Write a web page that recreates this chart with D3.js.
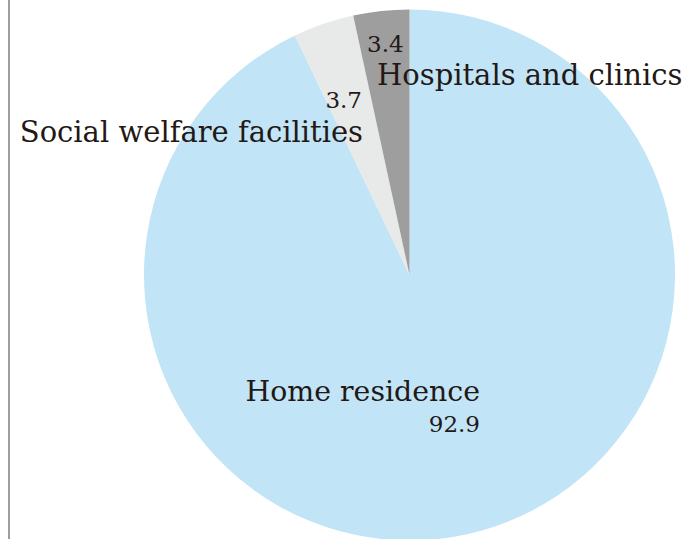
<!DOCTYPE html>
<html>
<head>
<meta charset="utf-8">
<script src="https://cdn.jsdelivr.net/npm/d3@7"></script>
<style>
  body { margin: 0; background: #fff; }
  svg { display: block; }
  text { font-family: "DejaVu Serif", serif; fill: #231815; }
</style>
</head>
<body>
<svg id="chart" width="686" height="539"></svg>
<script>
const categories = ['Home residence', 'Social welfare facilities', 'Hospitals and clinics'];
const values = [92.9, 3.7, 3.4];
const colors = ['#c1e4f7', '#e8e9e9', '#9e9e9e'];

const width = 686;
const height = 539;
const cx = 409.5;
const cy = 275;
const radius = 265.5;

const svg = d3.select('#chart');

// left frame line
svg.append('line')
  .attr('x1', 9).attr('x2', 9)
  .attr('y1', 0).attr('y2', height)
  .attr('stroke', '#7d7d7d')
  .attr('stroke-width', 1.5);

const data = categories.map((c, i) => ({ name: c, value: values[i], color: colors[i] }));

const pie = d3.pie().sort(null).value(d => d.value);
const arc = d3.arc().innerRadius(0).outerRadius(radius);

const g = svg.append('g').attr('transform', `translate(${cx},${cy})`);

g.selectAll('path')
  .data(pie(data))
  .join('path')
  .attr('d', arc)
  .attr('fill', d => d.data.color);

// label placement (name position, value position, anchors, size)
const labels = [
  { name: [480, 401], value: [480, 432], anchor: 'end', valueAnchor: 'end', size: 28.4 },
  { name: [363, 142], value: [362, 108], anchor: 'end', valueAnchor: 'end', size: 29 },
  { name: [377, 85], value: [367, 52], anchor: 'start', valueAnchor: 'start', size: 29 },
];

const lg = svg.append('g');
data.forEach((d, i) => {
  const l = labels[i];
  lg.append('text')
    .attr('x', l.name[0]).attr('y', l.name[1])
    .attr('text-anchor', l.anchor)
    .attr('font-size', l.size)
    .text(d.name);
  lg.append('text')
    .attr('x', l.value[0]).attr('y', l.value[1])
    .attr('text-anchor', l.valueAnchor)
    .attr('font-size', 23)
    .text(d3.format('.1f')(d.value));
});
</script>
</body>
</html>
